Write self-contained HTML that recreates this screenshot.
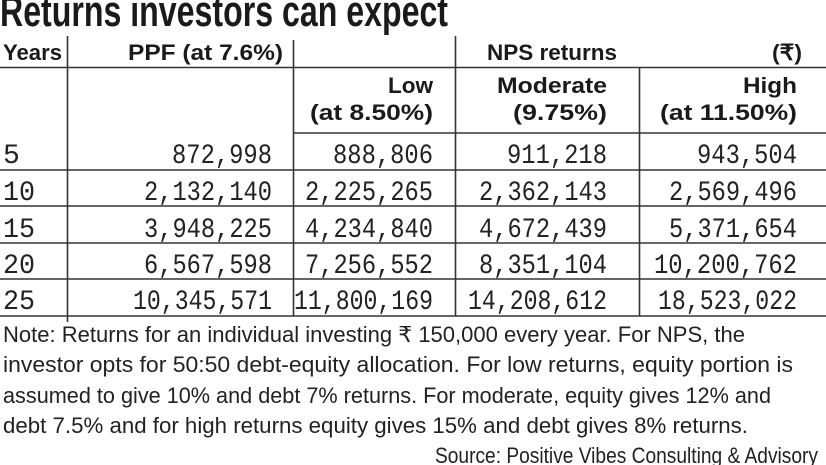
<!DOCTYPE html>
<html><head><meta charset="utf-8"><style>
html,body{margin:0;padding:0;background:#fff;width:826px;height:465px;overflow:hidden}
svg{display:block}
text{font-family:"Liberation Sans",sans-serif;fill:#1a1a1a}
.h{font-weight:bold;font-size:22px}
.n{font-family:"Liberation Mono",monospace;font-size:28px;fill:#222}
.t{font-size:22px;fill:#222}
</style></head><body>
<svg width="826" height="465" viewBox="0 0 826 465" xmlns="http://www.w3.org/2000/svg">
<text x="0" y="26" font-size="44" font-weight="bold" textLength="448" lengthAdjust="spacingAndGlyphs">Returns investors can expect</text>
<g stroke="#333" stroke-width="1.6">
<line x1="0" y1="67.5" x2="826" y2="67.5"/>
<line x1="293" y1="133" x2="826" y2="133"/>
<line x1="0" y1="170" x2="826" y2="170"/>
<line x1="0" y1="206" x2="826" y2="206"/>
<line x1="0" y1="243" x2="826" y2="243"/>
<line x1="0" y1="279" x2="826" y2="279"/>
<line x1="0" y1="316" x2="826" y2="316"/>
<line x1="67.5" y1="36" x2="67.5" y2="322"/>
<line x1="293.5" y1="40" x2="293.5" y2="316"/>
<line x1="455.5" y1="36" x2="455.5" y2="316"/>
<line x1="639.5" y1="67" x2="639.5" y2="316"/>
</g>
<text class="h" x="3" y="60" textLength="59" lengthAdjust="spacingAndGlyphs">Years</text>
<text class="h" x="128" y="60" textLength="155" lengthAdjust="spacingAndGlyphs">PPF (at 7.6%)</text>
<text class="h" x="487" y="60" textLength="130" lengthAdjust="spacingAndGlyphs">NPS returns</text>
<text class="h" x="772" y="60" textLength="30" lengthAdjust="spacingAndGlyphs">(₹)</text>
<text class="h" x="388" y="93" textLength="45" lengthAdjust="spacingAndGlyphs">Low</text>
<text class="h" x="310" y="120" textLength="123" lengthAdjust="spacingAndGlyphs">(at 8.50%)</text>
<text class="h" x="497" y="93" textLength="110" lengthAdjust="spacingAndGlyphs">Moderate</text>
<text class="h" x="513" y="120" textLength="94" lengthAdjust="spacingAndGlyphs">(9.75%)</text>
<text class="h" x="743" y="93" textLength="54" lengthAdjust="spacingAndGlyphs">High</text>
<text class="h" x="660" y="120" textLength="137" lengthAdjust="spacingAndGlyphs">(at 11.50%)</text>
<text class="n" x="3" y="163">5</text>
<text class="n" x="3" y="200" textLength="32" lengthAdjust="spacingAndGlyphs">10</text>
<text class="n" x="3" y="237" textLength="32" lengthAdjust="spacingAndGlyphs">15</text>
<text class="n" x="3" y="273" textLength="32" lengthAdjust="spacingAndGlyphs">20</text>
<text class="n" x="3" y="309" textLength="32" lengthAdjust="spacingAndGlyphs">25</text>
<g text-anchor="end">
<text class="n" x="272" y="163" textLength="100" lengthAdjust="spacingAndGlyphs">872,998</text>
<text class="n" x="433" y="163" textLength="100" lengthAdjust="spacingAndGlyphs">888,806</text>
<text class="n" x="607" y="163" textLength="100" lengthAdjust="spacingAndGlyphs">911,218</text>
<text class="n" x="797" y="163" textLength="100" lengthAdjust="spacingAndGlyphs">943,504</text>
<text class="n" x="272" y="200" textLength="128" lengthAdjust="spacingAndGlyphs">2,132,140</text>
<text class="n" x="433" y="200" textLength="128" lengthAdjust="spacingAndGlyphs">2,225,265</text>
<text class="n" x="607" y="200" textLength="128" lengthAdjust="spacingAndGlyphs">2,362,143</text>
<text class="n" x="797" y="200" textLength="128" lengthAdjust="spacingAndGlyphs">2,569,496</text>
<text class="n" x="272" y="237" textLength="128" lengthAdjust="spacingAndGlyphs">3,948,225</text>
<text class="n" x="433" y="237" textLength="128" lengthAdjust="spacingAndGlyphs">4,234,840</text>
<text class="n" x="607" y="237" textLength="128" lengthAdjust="spacingAndGlyphs">4,672,439</text>
<text class="n" x="797" y="237" textLength="128" lengthAdjust="spacingAndGlyphs">5,371,654</text>
<text class="n" x="272" y="273" textLength="128" lengthAdjust="spacingAndGlyphs">6,567,598</text>
<text class="n" x="433" y="273" textLength="128" lengthAdjust="spacingAndGlyphs">7,256,552</text>
<text class="n" x="607" y="273" textLength="128" lengthAdjust="spacingAndGlyphs">8,351,104</text>
<text class="n" x="797" y="273" textLength="143" lengthAdjust="spacingAndGlyphs">10,200,762</text>
<text class="n" x="272" y="309" textLength="139" lengthAdjust="spacingAndGlyphs">10,345,571</text>
<text class="n" x="433" y="309" textLength="139" lengthAdjust="spacingAndGlyphs">11,800,169</text>
<text class="n" x="607" y="309" textLength="139" lengthAdjust="spacingAndGlyphs">14,208,612</text>
<text class="n" x="797" y="309" textLength="139" lengthAdjust="spacingAndGlyphs">18,523,022</text>
</g>
<text class="t" x="3" y="342" textLength="742" lengthAdjust="spacingAndGlyphs">Note: Returns for an individual investing ₹ 150,000 every year. For NPS, the</text>
<text class="t" x="3" y="372" textLength="790" lengthAdjust="spacingAndGlyphs">investor opts for 50:50 debt-equity allocation. For low returns, equity portion is</text>
<text class="t" x="3" y="403" textLength="768" lengthAdjust="spacingAndGlyphs">assumed to give 10% and debt 7% returns. For moderate, equity gives 12% and</text>
<text class="t" x="3" y="433" textLength="745" lengthAdjust="spacingAndGlyphs">debt 7.5% and for high returns equity gives 15% and debt gives 8% returns.</text>
<text class="t" x="818" y="463" text-anchor="end" textLength="383" lengthAdjust="spacingAndGlyphs">Source: Positive Vibes Consulting &amp; Advisory</text>
</svg>
</body></html>
